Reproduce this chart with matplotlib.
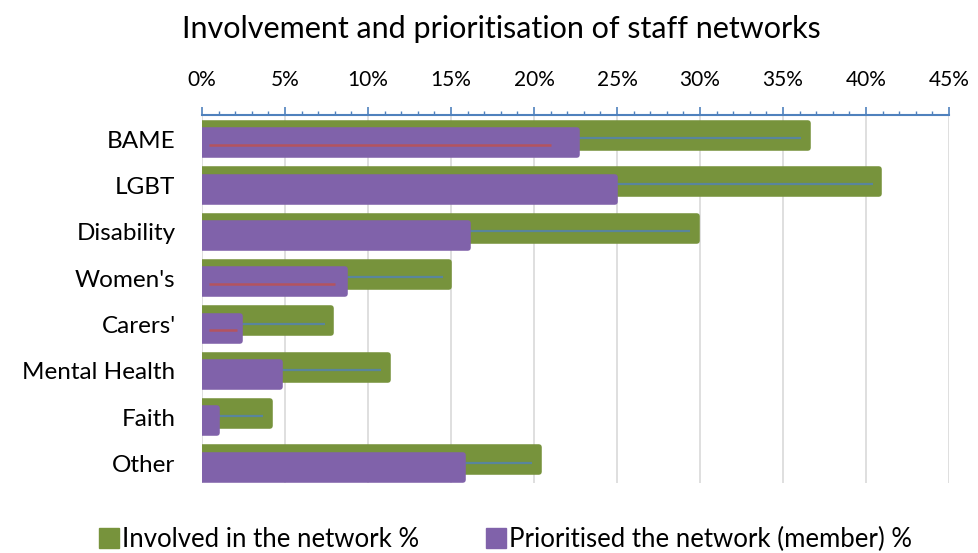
import matplotlib.pyplot as plt
import numpy as np
from matplotlib.ticker import MultipleLocator, FuncFormatter
from matplotlib.patches import Patch

plt.rcParams['font.family'] = ['Lato', 'DejaVu Sans']

# values (percent)
categories = ['BAME', 'LGBT', 'Disability', "Women's", "Carers'", 'Mental Health', 'Faith', 'Other']
involved = [36.5, 40.8, 29.8, 14.9, 7.8, 11.2, 4.1, 20.3]
prioritised = [22.6, 24.9, 16.0, 8.6, 2.3, 4.7, 0.9, 15.7]
red_line = [True, False, False, True, True, False, False, False]

green = '#77933c'
purple = '#8062aa'
blue = '#4f81bd'

fig = plt.figure(figsize=(9.79, 5.53), dpi=100)
ax = fig.add_axes([0.2063, 0.1266, 0.7631, 0.6655])

y = np.arange(len(categories))
off = 0.08
h = 0.54

# thick round-joined edges give the rounded bar ends
ax.barh(y - off, involved, h, color=green, edgecolor=green, linewidth=4, joinstyle='round', zorder=2)
ax.barh(y + off, prioritised, h, color=purple, edgecolor=purple, linewidth=4, joinstyle='round', zorder=3)

# thin inner streaks seen in the original
ax.hlines(y - off + 0.06, 0.4, np.array(involved) - 0.4, color=blue, lw=1.6, alpha=0.75, zorder=2.5)
for yi, v, r in zip(y, prioritised, red_line):
    if r:
        ax.hlines(yi + off + 0.04, 0.4, v * 0.93, color='#c0504d', lw=1.8, alpha=0.8, zorder=3.5)

ax.set_xlim(0, 45)
ax.set_ylim(7.42, -0.52)
ax.set_yticks(y)
ax.set_yticklabels(categories, fontsize=17.5)
ax.tick_params(axis='y', length=0, pad=19)

ax.xaxis.set_ticks_position('top')
ax.xaxis.set_label_position('top')
ax.xaxis.set_major_locator(MultipleLocator(5))
ax.xaxis.set_minor_locator(MultipleLocator(1))
ax.xaxis.set_major_formatter(FuncFormatter(lambda v, p: f'{v:.0f}%'))
ax.tick_params(axis='x', which='major', labelsize=15, direction='out', length=6, color=blue, width=1.2, pad=12)
ax.tick_params(axis='x', which='minor', direction='out', length=3, color=blue, width=1)

ax.grid(axis='x', color='#d9d9d9', lw=1.2, zorder=0)
ax.set_axisbelow(True)
for s in ['bottom', 'left', 'right']:
    ax.spines[s].set_visible(False)
ax.spines['top'].set_color(blue)
ax.spines['top'].set_linewidth(1.5)

fig.text(0.512, 0.947, 'Involvement and prioritisation of staff networks', ha='center', va='center', fontsize=22)

handles = [Patch(facecolor=green, edgecolor=green), Patch(facecolor=purple, edgecolor=purple)]
fig.legend(handles, ['Involved in the network %', 'Prioritised the network (member) %'],
           loc='center', bbox_to_anchor=(0.516, 0.025), ncol=2, frameon=False, fontsize=18.5,
           handlelength=0.8, handleheight=0.8, handletextpad=0.1, columnspacing=2.6)

fig.savefig('out.png', dpi=100)
